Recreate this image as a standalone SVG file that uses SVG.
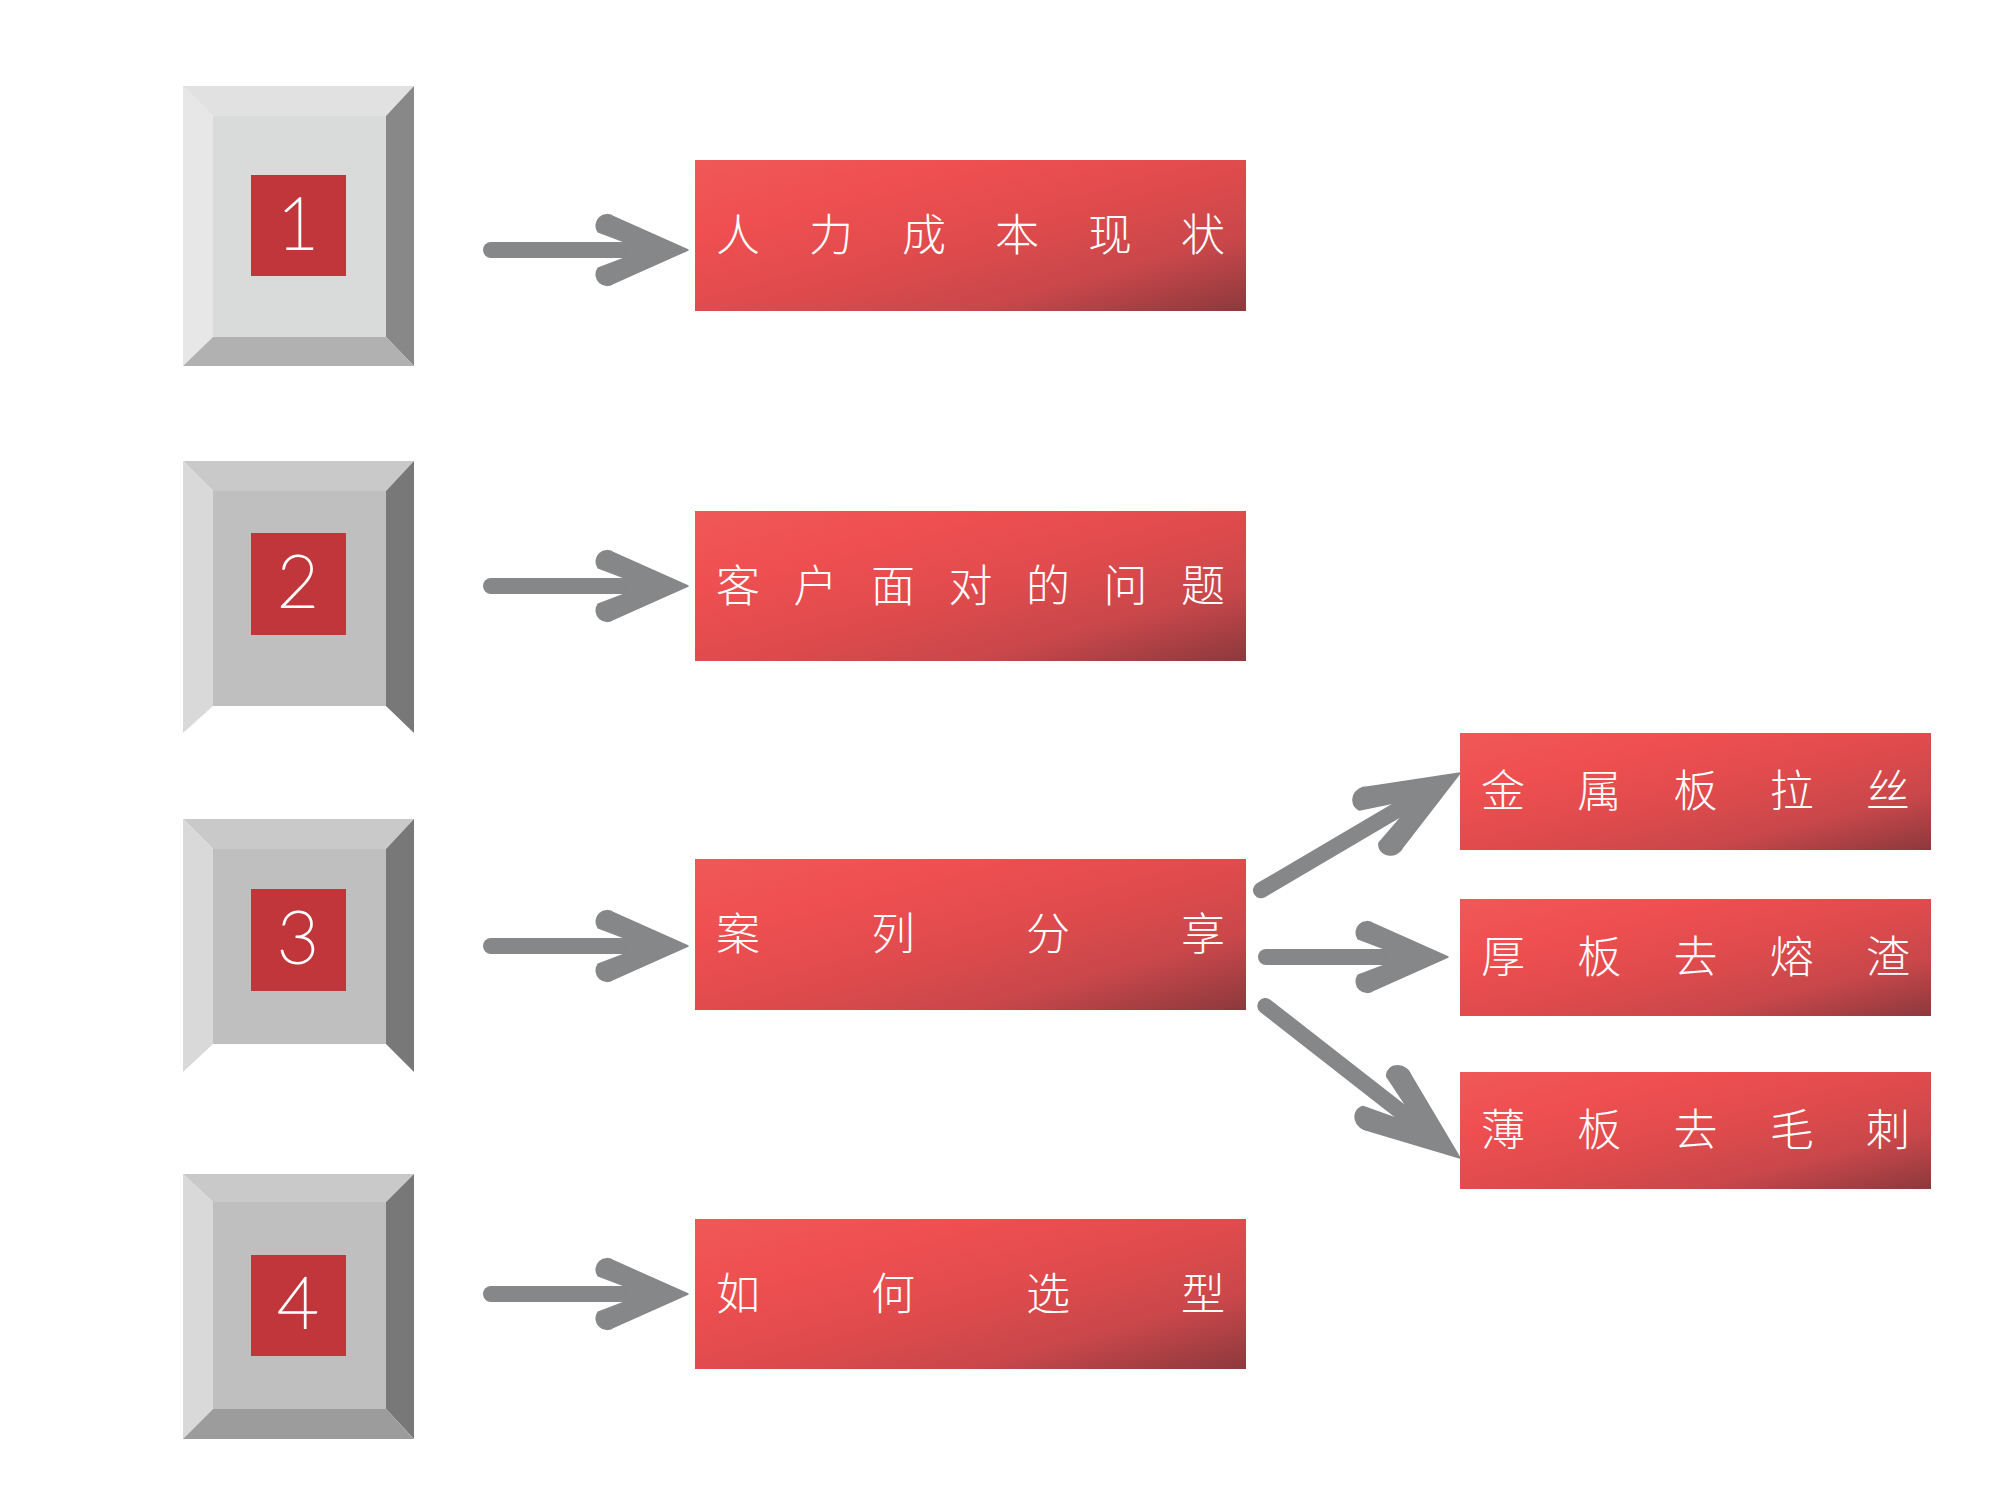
<svg xmlns="http://www.w3.org/2000/svg" width="2000" height="1500" viewBox="0 0 2000 1500">
<defs>
<style>
.tl{fill:#e0e1e0}.lf{fill:#e6e7e6}.in{fill:#d9dbda}.rt{fill:#888888}.bt{fill:#b0b1b0}
.tl2{fill:#c9c9c9}.lf2{fill:#d8d9d8}.in2{fill:#bfbfbf}.rt2{fill:#777877}.bt2{fill:#9c9c9c}
.sq{fill:#c1363a}
.num{fill:#ffffff;stroke:#ffffff;stroke-width:1.8;font-family:Lato,"Open Sans","Noto Sans",sans-serif;font-weight:100;font-size:72px;text-anchor:middle}
.lbl{fill:#ffffff;font-family:"Noto Sans CJK SC","Noto Sans CJK JP",sans-serif;font-weight:200;font-size:44px}
.shaft{fill:none;stroke:#868788;stroke-width:16;stroke-linecap:round}
.head{fill:#868788;stroke:#868788;stroke-width:1.5;stroke-linejoin:round}
</style>
<linearGradient id="rg" x1="0" y1="0" x2="1" y2="1">
<stop offset="0" stop-color="#f05858"/>
<stop offset="0.25" stop-color="#ef4f50"/>
<stop offset="0.5" stop-color="#e14b4d"/>
<stop offset="0.75" stop-color="#c9474a"/>
<stop offset="1" stop-color="#8c393d"/>
</linearGradient>
<path id="ah" class="head" d="M 0,0 L -74,-33 A 11,11 0 0 0 -90,-18.3 L -63,-8 L -63,8 L -90,18.3 A 11,11 0 0 0 -74,33 Z"/>
</defs>
<rect width="2000" height="1500" fill="#ffffff"/>

<g id="num1">
<polygon class="tl" points="183,86 414,86 386,116 213,116"/>
<polygon class="lf" points="183,86 213,116 213,337 183,366"/>
<polygon class="rt" points="414,86 414,366 386,337 386,116"/>
<polygon class="bt" points="183,366 213,337 386,337 414,366"/>
<rect class="in" x="213" y="116" width="173" height="221"/>
<rect class="sq" x="251" y="175" width="95" height="101"/>
<text class="num" x="298" y="249">1</text>
</g>

<g id="num2">
<polygon class="tl2" points="183,461 414,461 386,491 213,491"/>
<polygon class="lf2" points="183,461 213,491 213,706 183,733"/>
<polygon class="rt2" points="414,461 414,733 386,706 386,491"/>
<rect class="in2" x="213" y="491" width="173" height="215"/>
<rect class="sq" x="251" y="533" width="95" height="102"/>
<text class="num" x="298" y="607">2</text>
</g>

<g id="num3">
<polygon class="tl2" points="183,819 414,819 386,849 213,849"/>
<polygon class="lf2" points="183,819 213,849 213,1044 183,1072"/>
<polygon class="rt2" points="414,819 414,1072 386,1044 386,849"/>
<rect class="in2" x="213" y="849" width="173" height="195"/>
<rect class="sq" x="251" y="889" width="95" height="102"/>
<text class="num" x="298" y="963">3</text>
</g>

<g id="num4">
<polygon class="tl2" points="183,1174 414,1174 386,1202 213,1202"/>
<polygon class="lf2" points="183,1174 213,1202 213,1409 183,1439"/>
<polygon class="rt2" points="414,1174 414,1439 386,1409 386,1202"/>
<polygon class="bt2" points="183,1439 213,1409 386,1409 414,1439"/>
<rect class="in2" x="213" y="1202" width="173" height="207"/>
<rect class="sq" x="251" y="1255" width="95" height="101"/>
<text class="num" x="298" y="1328">4</text>
</g>

<g id="box1">
<rect x="695" y="160" width="551" height="151" fill="url(#rg)"/>
<text class="lbl" x="716 809 902 995 1088 1181" y="251">人力成本现状</text>
</g>
<g id="box2">
<rect x="695" y="511" width="551" height="150" fill="url(#rg)"/>
<text class="lbl" x="716 793.5 871 948.5 1026 1103.5 1181" y="602">客户面对的问题</text>
</g>
<g id="box3">
<rect x="695" y="859" width="551" height="151" fill="url(#rg)"/>
<text class="lbl" x="716 871 1026 1181" y="950">案列分享</text>
</g>
<g id="box4">
<rect x="695" y="1219" width="551" height="150" fill="url(#rg)"/>
<text class="lbl" x="716 871 1026 1181" y="1310">如何选型</text>
</g>

<g id="sub1">
<rect x="1460" y="733" width="471" height="117" fill="url(#rg)"/>
<text class="lbl" x="1481 1577.25 1673.5 1769.75 1866" y="807">金属板拉丝</text>
</g>
<g id="sub2">
<rect x="1460" y="899" width="471" height="117" fill="url(#rg)"/>
<text class="lbl" x="1481 1577.25 1673.5 1769.75 1866" y="973">厚板去熔渣</text>
</g>
<g id="sub3">
<rect x="1460" y="1072" width="471" height="117" fill="url(#rg)"/>
<text class="lbl" x="1481 1577.25 1673.5 1769.75 1866" y="1146">薄板去毛刺</text>
</g>

<g id="connectors">
<g transform="translate(688,250)"><line class="shaft" x1="-197" y1="0" x2="-60" y2="0"/><use href="#ah"/></g>
<g transform="translate(688,586)"><line class="shaft" x1="-197" y1="0" x2="-60" y2="0"/><use href="#ah"/></g>
<g transform="translate(688,946)"><line class="shaft" x1="-197" y1="0" x2="-60" y2="0"/><use href="#ah"/></g>
<g transform="translate(688,1294)"><line class="shaft" x1="-197" y1="0" x2="-60" y2="0"/><use href="#ah"/></g>
<g transform="translate(1460,773) rotate(-30.5)"><line class="shaft" x1="-231" y1="0" x2="-70" y2="0"/><use href="#ah" transform="scale(1.17,1.05)"/></g>
<g transform="translate(1448,957)"><line class="shaft" x1="-182" y1="0" x2="-60" y2="0"/><use href="#ah"/></g>
<g transform="translate(1460,1158) rotate(38)"><line class="shaft" x1="-247" y1="0" x2="-70" y2="0"/><use href="#ah" transform="scale(1.2,1.05)"/></g>
</g>
</svg>
